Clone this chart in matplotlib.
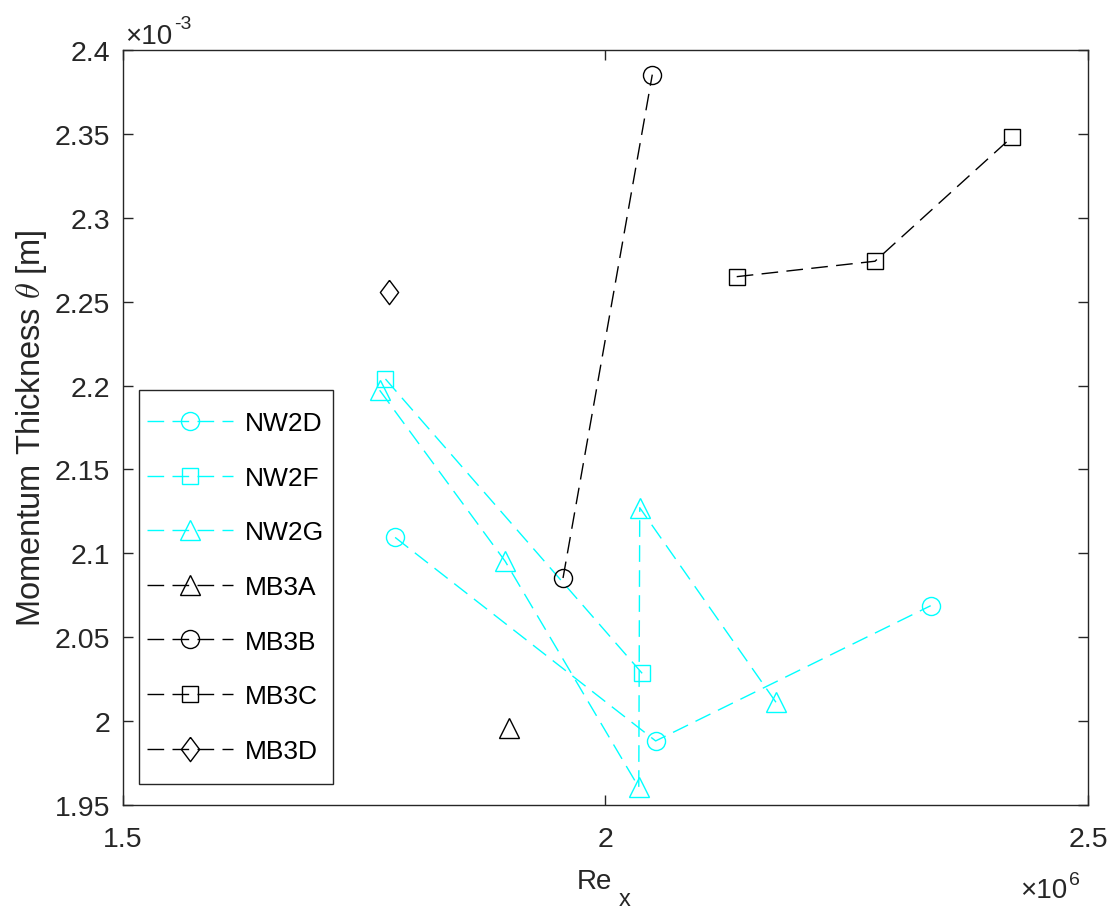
import matplotlib
matplotlib.use("Agg")
import matplotlib.pyplot as plt
from matplotlib.patches import Rectangle
from matplotlib.ticker import FuncFormatter, MultipleLocator

plt.rcParams["font.family"] = ["Liberation Sans", "DejaVu Sans"]
plt.rcParams["mathtext.fontset"] = "cm"

# Re_x and momentum thickness theta [m] for each run
nw2d_re = [1.782e6, 2.052e6, 2.337e6]
nw2d_theta = [2.1095e-3, 1.9882e-3, 2.0688e-3]
nw2f_re = [1.772e6, 2.038e6]
nw2f_theta = [2.2039e-3, 2.0285e-3]
nw2g_re = [1.766e6, 1.896e6, 2.0345e6, 2.0355e6, 2.1767e6]
nw2g_theta = [2.1972e-3, 2.0953e-3, 1.9606e-3, 2.1272e-3, 2.0112e-3]
mb3a_re = [1.9003e6]
mb3a_theta = [1.9959e-3]
mb3b_re = [1.956e6, 2.0485e6]
mb3b_theta = [2.0853e-3, 2.3853e-3]
mb3c_re = [2.136e6, 2.2793e6, 2.4216e6]
mb3c_theta = [2.2649e-3, 2.2741e-3, 2.3483e-3]
mb3d_re = [1.7756e6]
mb3d_theta = [2.256e-3]

names = ["NW2D", "NW2F", "NW2G", "MB3A", "MB3B", "MB3C", "MB3D"]
re_values = [nw2d_re, nw2f_re, nw2g_re, mb3a_re, mb3b_re, mb3c_re, mb3d_re]
theta_values = [nw2d_theta, nw2f_theta, nw2g_theta, mb3a_theta, mb3b_theta, mb3c_theta, mb3d_theta]

diamond = [(0, 1), (0.75, 0), (0, -1), (-0.75, 0), (0, 1)]
styles = {
    "NW2D": ("cyan", "o", 13),
    "NW2F": ("cyan", "s", 11.3),
    "NW2G": ("cyan", "^", 14),
    "MB3A": ("black", "^", 14),
    "MB3B": ("black", "o", 13),
    "MB3C": ("black", "s", 11.3),
    "MB3D": ("black", diamond, 17.5),
}

axis_grey = "#262626"

fig = plt.figure(figsize=(11.12, 9.12), dpi=100)
ax = fig.add_axes([0.1106, 0.1162, 0.8678, 0.8279])

for name, re, theta in zip(names, re_values, theta_values):
    color, marker, size = styles[name]
    ax.plot(re, theta, linestyle=(0, (12, 6)), linewidth=1.0, color=color,
            marker=marker, markersize=size, markerfacecolor="none",
            markeredgecolor=color, markeredgewidth=1.0, label=name)

ax.set_xlim(1.5e6, 2.5e6)
ax.set_ylim(1.95e-3, 2.4e-3)
ax.xaxis.set_major_locator(MultipleLocator(5e5))
ax.yaxis.set_major_locator(MultipleLocator(5e-5))
ax.xaxis.set_major_formatter(FuncFormatter(lambda v, p: f"{v / 1e6:g}"))
ax.yaxis.set_major_formatter(FuncFormatter(lambda v, p: f"{v * 1e3:g}"))

ax.tick_params(direction="in", length=7, width=1, colors=axis_grey,
               labelsize=20.5, top=True, right=True)
ax.tick_params(axis="y", pad=9)
ax.tick_params(axis="x", pad=15)
for spine in ax.spines.values():
    spine.set_color(axis_grey)
    spine.set_linewidth(1.0)

# "Re" sits left of centre so that Re with its subscript is centred
ax.set_xlabel("Re", fontsize=20, color=axis_grey, va="top")
ax.xaxis.set_label_coords(0.4886, -0.0834)
ax.set_ylabel(r"Momentum Thickness $\theta$ [m]", fontsize=23.5, color=axis_grey, labelpad=4)

ax.annotate("x", xy=(1, 0), xycoords=ax.xaxis.label, xytext=(7, -11),
            textcoords="offset pixels", ha="left", va="baseline",
            fontsize=17, color=axis_grey, annotation_clip=False)

# axis exponent markers
top_mult = ax.text(0.002, 1.0093, "×10", transform=ax.transAxes, ha="left",
                   va="baseline", fontsize=20, color=axis_grey)
ax.annotate("-3", xy=(1, 1.0093), xycoords=(top_mult, "axes fraction"),
            xytext=(2, 15), textcoords="offset pixels", ha="left", va="baseline",
            fontsize=14, color=axis_grey, annotation_clip=False)
bottom_mult = ax.text(0.9295, -0.1219, "×10", transform=ax.transAxes, ha="left",
                      va="baseline", fontsize=20, color=axis_grey)
ax.annotate("6", xy=(1, -0.1219), xycoords=(bottom_mult, "axes fraction"),
            xytext=(2, 13), textcoords="offset pixels", ha="left", va="baseline",
            fontsize=14, color=axis_grey, annotation_clip=False)

# legend box drawn separately so its padding can differ from the entry spacing
box_x0, box_y0, box_x1, box_y1 = 0.0166, 0.0278, 0.2176, 0.5497
ax.add_patch(Rectangle((box_x0, box_y0), box_x1 - box_x0, box_y1 - box_y0,
                       transform=ax.transAxes, facecolor="white",
                       edgecolor=axis_grey, linewidth=1.0, zorder=4.9))
legend = ax.legend(loc="center", bbox_to_anchor=((box_x0 + box_x1) / 2, (box_y0 + box_y1) / 2),
                   borderaxespad=0, fontsize=19, frameon=False, numpoints=1,
                   handlelength=3.26, handletextpad=0.45, labelspacing=1.16,
                   borderpad=0.3)
legend.set_zorder(5)
for text in legend.get_texts():
    text.set_color("black")

fig.savefig("out.png", dpi=100, facecolor="white")
